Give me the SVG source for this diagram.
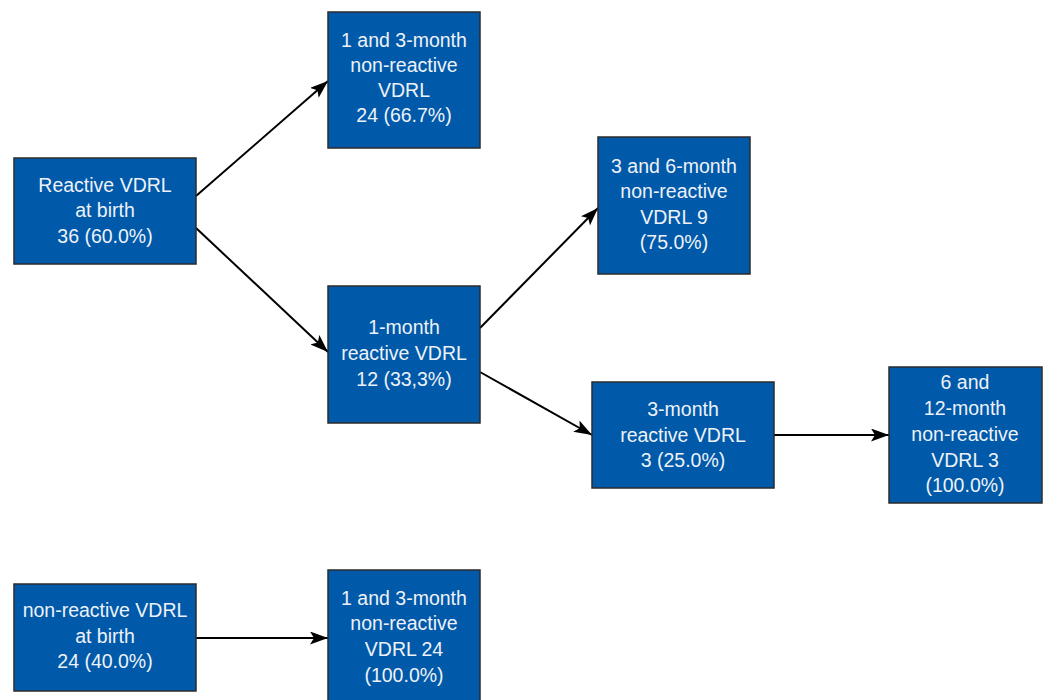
<svg xmlns="http://www.w3.org/2000/svg" width="1047" height="700" viewBox="0 0 1047 700">
<style>
.box{fill:#0059A9;stroke:#2b2b2b;stroke-width:1.5}
.t{font-family:"Liberation Sans",Arial,sans-serif;font-size:19.5px;fill:#eef2f8;text-anchor:middle}
.c{stroke:#000;stroke-width:2;fill:none;marker-end:url(#ah)}
</style>
<defs>
<marker id="ah" viewBox="0 0 18 13" refX="18" refY="6.5" markerWidth="18" markerHeight="13" markerUnits="userSpaceOnUse" orient="auto">
<path d="M0,0 L18,6.5 L0,13 L4,6.5 Z" fill="#000"/>
</marker>
</defs>
<rect width="1047" height="700" fill="#fff"/>
<g id="connectors">
<line class="c" x1="196" y1="196" x2="328" y2="81"/>
<line class="c" x1="196" y1="228" x2="328" y2="352"/>
<line class="c" x1="480" y1="328" x2="598" y2="208"/>
<line class="c" x1="480" y1="372" x2="592" y2="435"/>
<line class="c" x1="774" y1="435" x2="889" y2="435"/>
<line class="c" x1="196" y1="638" x2="328" y2="638"/>
</g>
<g id="reactive-birth">
<rect class="box" x="14" y="158" width="182" height="106"/>
<text class="t" x="105" y="192">Reactive VDRL</text>
<text class="t" x="105" y="217">at birth</text>
<text class="t" x="105" y="243">36 (60.0%)</text>
</g>
<g id="nr-1-3-month">
<rect class="box" x="328" y="12" width="152" height="136"/>
<text class="t" x="404" y="47">1 and 3-month</text>
<text class="t" x="404" y="72">non-reactive</text>
<text class="t" x="404" y="97">VDRL</text>
<text class="t" x="404" y="122">24 (66.7%)</text>
</g>
<g id="reactive-1-month">
<rect class="box" x="328" y="286" width="152" height="137"/>
<text class="t" x="404" y="334">1-month</text>
<text class="t" x="404" y="360">reactive VDRL</text>
<text class="t" x="404" y="386">12 (33,3%)</text>
</g>
<g id="nr-3-6-month">
<rect class="box" x="598" y="137" width="152" height="137"/>
<text class="t" x="674" y="173">3 and 6-month</text>
<text class="t" x="674" y="198">non-reactive</text>
<text class="t" x="674" y="224">VDRL 9</text>
<text class="t" x="674" y="249">(75.0%)</text>
</g>
<g id="reactive-3-month">
<rect class="box" x="592" y="382" width="182" height="106"/>
<text class="t" x="683" y="416">3-month</text>
<text class="t" x="683" y="442">reactive VDRL</text>
<text class="t" x="683" y="467">3 (25.0%)</text>
</g>
<g id="nr-6-12-month">
<rect class="box" x="889" y="367" width="153" height="136"/>
<text class="t" x="965" y="389">6 and</text>
<text class="t" x="965" y="415">12-month</text>
<text class="t" x="965" y="441">non-reactive</text>
<text class="t" x="965" y="467">VDRL 3</text>
<text class="t" x="965" y="492">(100.0%)</text>
</g>
<g id="nonreactive-birth">
<rect class="box" x="14" y="584" width="182" height="107"/>
<text class="t" x="105" y="617">non-reactive VDRL</text>
<text class="t" x="105" y="643">at birth</text>
<text class="t" x="105" y="668">24 (40.0%)</text>
</g>
<g id="nr-1-3-month-24">
<rect class="box" x="328" y="570" width="152" height="136"/>
<text class="t" x="404" y="605">1 and 3-month</text>
<text class="t" x="404" y="630">non-reactive</text>
<text class="t" x="404" y="656">VDRL 24</text>
<text class="t" x="404" y="682">(100.0%)</text>
</g>
</svg>
